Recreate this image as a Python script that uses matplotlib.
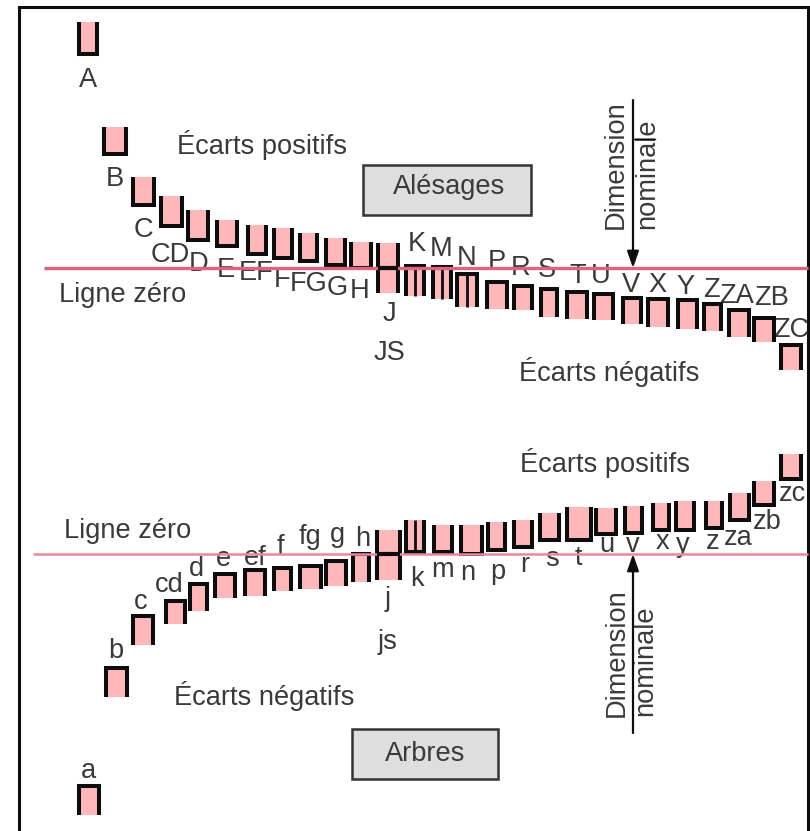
import matplotlib
matplotlib.use('Agg')
import matplotlib.pyplot as plt

plt.rcParams['font.family'] = ['Liberation Sans', 'DejaVu Sans']

W, H = 810, 831
ZERO_HOLE, ZERO_SHAFT = 268, 554

# holes (alesages): deviations from the zero line
hole_names = ['A', 'B', 'C', 'CD', 'D', 'E', 'EF', 'F', 'FG', 'G', 'H', 'JS', 'K', 'M', 'N',
              'P', 'R', 'S', 'T', 'U', 'V', 'X', 'Y', 'Z', 'ZA', 'ZB', 'ZC']
hole_upper = [246, 141, 91, 72, 58, 48, 43, 40, 35, 30, 26, 25, 3, 2, -5,
              -13, -17, -20, -23, -25, -29, -30, -31, -35, -41, -49, -76]
hole_lower = [213, 113, 62, 41, 27, 21, 13, 9, 6, 2, -1, -25, -28, -31, -39,
              -41, -42, -49, -51, -52, -56, -59, -61, -63, -69, -74, -102]
hole_left = [78, 103, 132, 160, 187, 216, 247, 273, 299, 325, 350, 377, 405, 432, 456,
             486, 513, 540, 566, 593, 622, 647, 677, 703, 728, 753, 780]
hole_right = [98, 127, 155, 183, 209, 238, 267, 293, 318, 346, 372, 399, 425, 452, 478,
              508, 533, 558, 588, 614, 642, 669, 698, 722, 750, 775, 802]

# shafts (arbres)
shaft_names = ['a', 'b', 'c', 'cd', 'd', 'e', 'ef', 'f', 'fg', 'g', 'h', 'js', 'k', 'm', 'n',
               'p', 'r', 's', 't', 'u', 'v', 'x', 'y', 'z', 'za', 'zb', 'zc']
shaft_upper = [-231, -113, -61, -46, -29, -19, -15, -13, -11, -6, 1, 24, 34, 29, 29,
               32, 34, 41, 47, 46, 48, 51, 53, 53, 61, 73, 100]
shaft_lower = [-261, -143, -91, -70, -57, -44, -42, -37, -35, -32, -28, -26, 1, 1, -1,
               3, 6, 13, 13, 19, 20, 23, 23, 25, 33, 48, 74]
shaft_left = [78, 105, 132, 165, 189, 214, 244, 273, 299, 325, 352, 376, 405, 433, 460,
              487, 513, 539, 566, 595, 624, 652, 675, 705, 729, 753, 780]
shaft_right = [100, 128, 154, 186, 208, 236, 266, 292, 322, 347, 370, 401, 425, 453, 483,
               506, 533, 560, 592, 617, 643, 670, 695, 723, 750, 775, 802]

# label placement, picture pixels
hole_label_xy = [(88, 78), (115, 177), (143, 228), (170, 253), (199, 262), (226, 268), (256, 271),
                 (282, 278), (309, 282), (337, 286), (360, 289), (389, 312), (417, 242), (441, 247),
                 (467, 256), (497, 260), (521, 266), (547, 268), (578, 274), (601, 274), (631, 283),
                 (657, 283), (686, 285), (711, 288), (736, 294), (772, 296), (791, 328)]
shaft_label_xy = [(88, 769), (116, 649), (141, 600), (169, 583), (196, 567), (223, 557), (255, 556),
                  (280, 545), (310, 535), (337, 533), (363, 537), (388, 597), (417, 577), (443, 568),
                  (468, 571), (498, 570), (525, 563), (552, 557), (578, 556), (607, 543), (633, 543),
                  (662, 540), (683, 543), (713, 540), (738, 536), (767, 520), (793, 492)]

INK = '#0d0d0d'
FILL = '#ffb8ba'
TEXT = '#3a3a3a'
FS = 19.6
LW = 2.9
IN = 1.4  # boxes were measured outer edge to outer edge


def put_text(ax, zero, x, y, s, **kw):
    # y given as picture pixel, converted to deviation for this axes
    dy = 0 if 'rotation' in kw else 2
    ax.text(x, zero - y - dy, s, ha='center', va='center', color=TEXT, fontsize=FS, **kw)


def ink_line(ax, xs, ys, lw=LW, zorder=4):
    ax.plot(xs, ys, color=INK, lw=lw, solid_joinstyle='miter', solid_capstyle='butt', zorder=zorder)


def draw_classes(ax, left, right, upper, lower, shape, inner):
    for i in range(len(left)):
        l, r, u, d = left[i] + IN, right[i] - IN, upper[i], lower[i]
        ax.fill_between([l, r], d, u, color=FILL, lw=0, zorder=2)
        if shape[i] == 'u':
            ink_line(ax, [l, l, r, r], [u, d + IN, d + IN, u])
        elif shape[i] == 'n':
            ink_line(ax, [l, l, r, r], [d, u - IN, u - IN, d])
        else:
            # JS: centred, bar sits on the zero line
            ink_line(ax, [l, l], [u, d])
            ink_line(ax, [r, r], [u, d])
            ink_line(ax, [l, r], [0, 0], lw=3.0, zorder=6)
        if i in inner:
            m = (l + r) / 2
            ink_line(ax, [m, m], [u, d], lw=2.0)


fig = plt.figure(figsize=(W / 100, H / 100), dpi=100, facecolor='white')

ax_h = fig.add_axes([0, 0, 1, 1])
ax_h.set_xlim(0, W)
ax_h.set_ylim(ZERO_HOLE - H, ZERO_HOLE)
ax_h.axis('off')

ax_s = fig.add_axes([0, 0, 1, 1])
ax_s.set_xlim(0, W)
ax_s.set_ylim(ZERO_SHAFT - H, ZERO_SHAFT)
ax_s.axis('off')
ax_s.patch.set_alpha(0)

# outer frame, no bottom edge in the source
ax_h.plot([19, 19, 808, 808], [ZERO_HOLE - H, ZERO_HOLE - 7, ZERO_HOLE - 7, ZERO_HOLE - H],
          color=INK, lw=2.2, solid_joinstyle='miter', zorder=1)

draw_classes(ax_h, hole_left, hole_right, hole_upper, hole_lower,
             ['u'] * 11 + ['h'] + ['n'] * 15, {12, 13, 14})
draw_classes(ax_s, shaft_left, shaft_right, shaft_upper, shaft_lower,
             ['n'] * 11 + ['h'] + ['u'] * 15, {12})

# zero lines
ax_h.plot([44, 808], [0, 0], color='#dc6480', lw=2.4, zorder=5, solid_capstyle='butt')
ax_s.plot([33, 808], [0, 0], color='#e9889c', lw=1.8, zorder=5, solid_capstyle='butt')

for name, (x, y) in zip(hole_names, hole_label_xy):
    if name != 'JS':
        put_text(ax_h, ZERO_HOLE, x, y, name)
put_text(ax_h, ZERO_HOLE, 389, 312, 'J')
put_text(ax_h, ZERO_HOLE, 389, 351, 'JS')

for name, (x, y) in zip(shaft_names, shaft_label_xy):
    if name != 'js':
        put_text(ax_s, ZERO_SHAFT, x, y, name)
put_text(ax_s, ZERO_SHAFT, 388, 597, 'j')
put_text(ax_s, ZERO_SHAFT, 388, 640, 'js')

put_text(ax_h, ZERO_HOLE, 262, 143, 'Écarts positifs')
put_text(ax_h, ZERO_HOLE, 609, 370, 'Écarts négatifs')
put_text(ax_h, ZERO_HOLE, 123, 293, 'Ligne zéro')
put_text(ax_s, ZERO_SHAFT, 605, 461, 'Écarts positifs')
put_text(ax_s, ZERO_SHAFT, 264, 694, 'Écarts négatifs')
put_text(ax_s, ZERO_SHAFT, 128, 529, 'Ligne zéro')

# grey name boxes
ax_h.fill([363, 531, 531, 363], [ZERO_HOLE - 165, ZERO_HOLE - 165, ZERO_HOLE - 215, ZERO_HOLE - 215],
          facecolor='#dedede', edgecolor='#333333', lw=1.8, zorder=3)
put_text(ax_h, ZERO_HOLE, 449, 185, 'Alésages', zorder=6)
ax_s.fill([352, 498, 498, 352], [ZERO_SHAFT - 729, ZERO_SHAFT - 729, ZERO_SHAFT - 779, ZERO_SHAFT - 779],
          facecolor='#dedede', edgecolor='#333333', lw=1.8, zorder=3)
put_text(ax_s, ZERO_SHAFT, 425, 752, 'Arbres', zorder=6)

# nominal dimension arrows
ax_h.annotate('', xy=(633, 0), xytext=(633, ZERO_HOLE - 100),
              arrowprops=dict(arrowstyle='-|>,head_width=0.35,head_length=1.0', color=INK, lw=1.6,
                              shrinkA=0, shrinkB=0), zorder=6)
ax_h.plot([633, 655], [ZERO_HOLE - 139, ZERO_HOLE - 139], color=INK, lw=1.0, zorder=6)
put_text(ax_h, ZERO_HOLE, 616, 165, 'Dimension', rotation=90)
put_text(ax_h, ZERO_HOLE, 647, 174, 'nominale', rotation=90)

ax_s.annotate('', xy=(633, 0), xytext=(633, ZERO_SHAFT - 733),
              arrowprops=dict(arrowstyle='-|>,head_width=0.35,head_length=1.0', color=INK, lw=1.6,
                              shrinkA=0, shrinkB=0), zorder=6)
put_text(ax_s, ZERO_SHAFT, 617, 653, 'Dimension', rotation=90)
put_text(ax_s, ZERO_SHAFT, 645, 661, 'nominale', rotation=90)

fig.savefig('out.png', dpi=100)
